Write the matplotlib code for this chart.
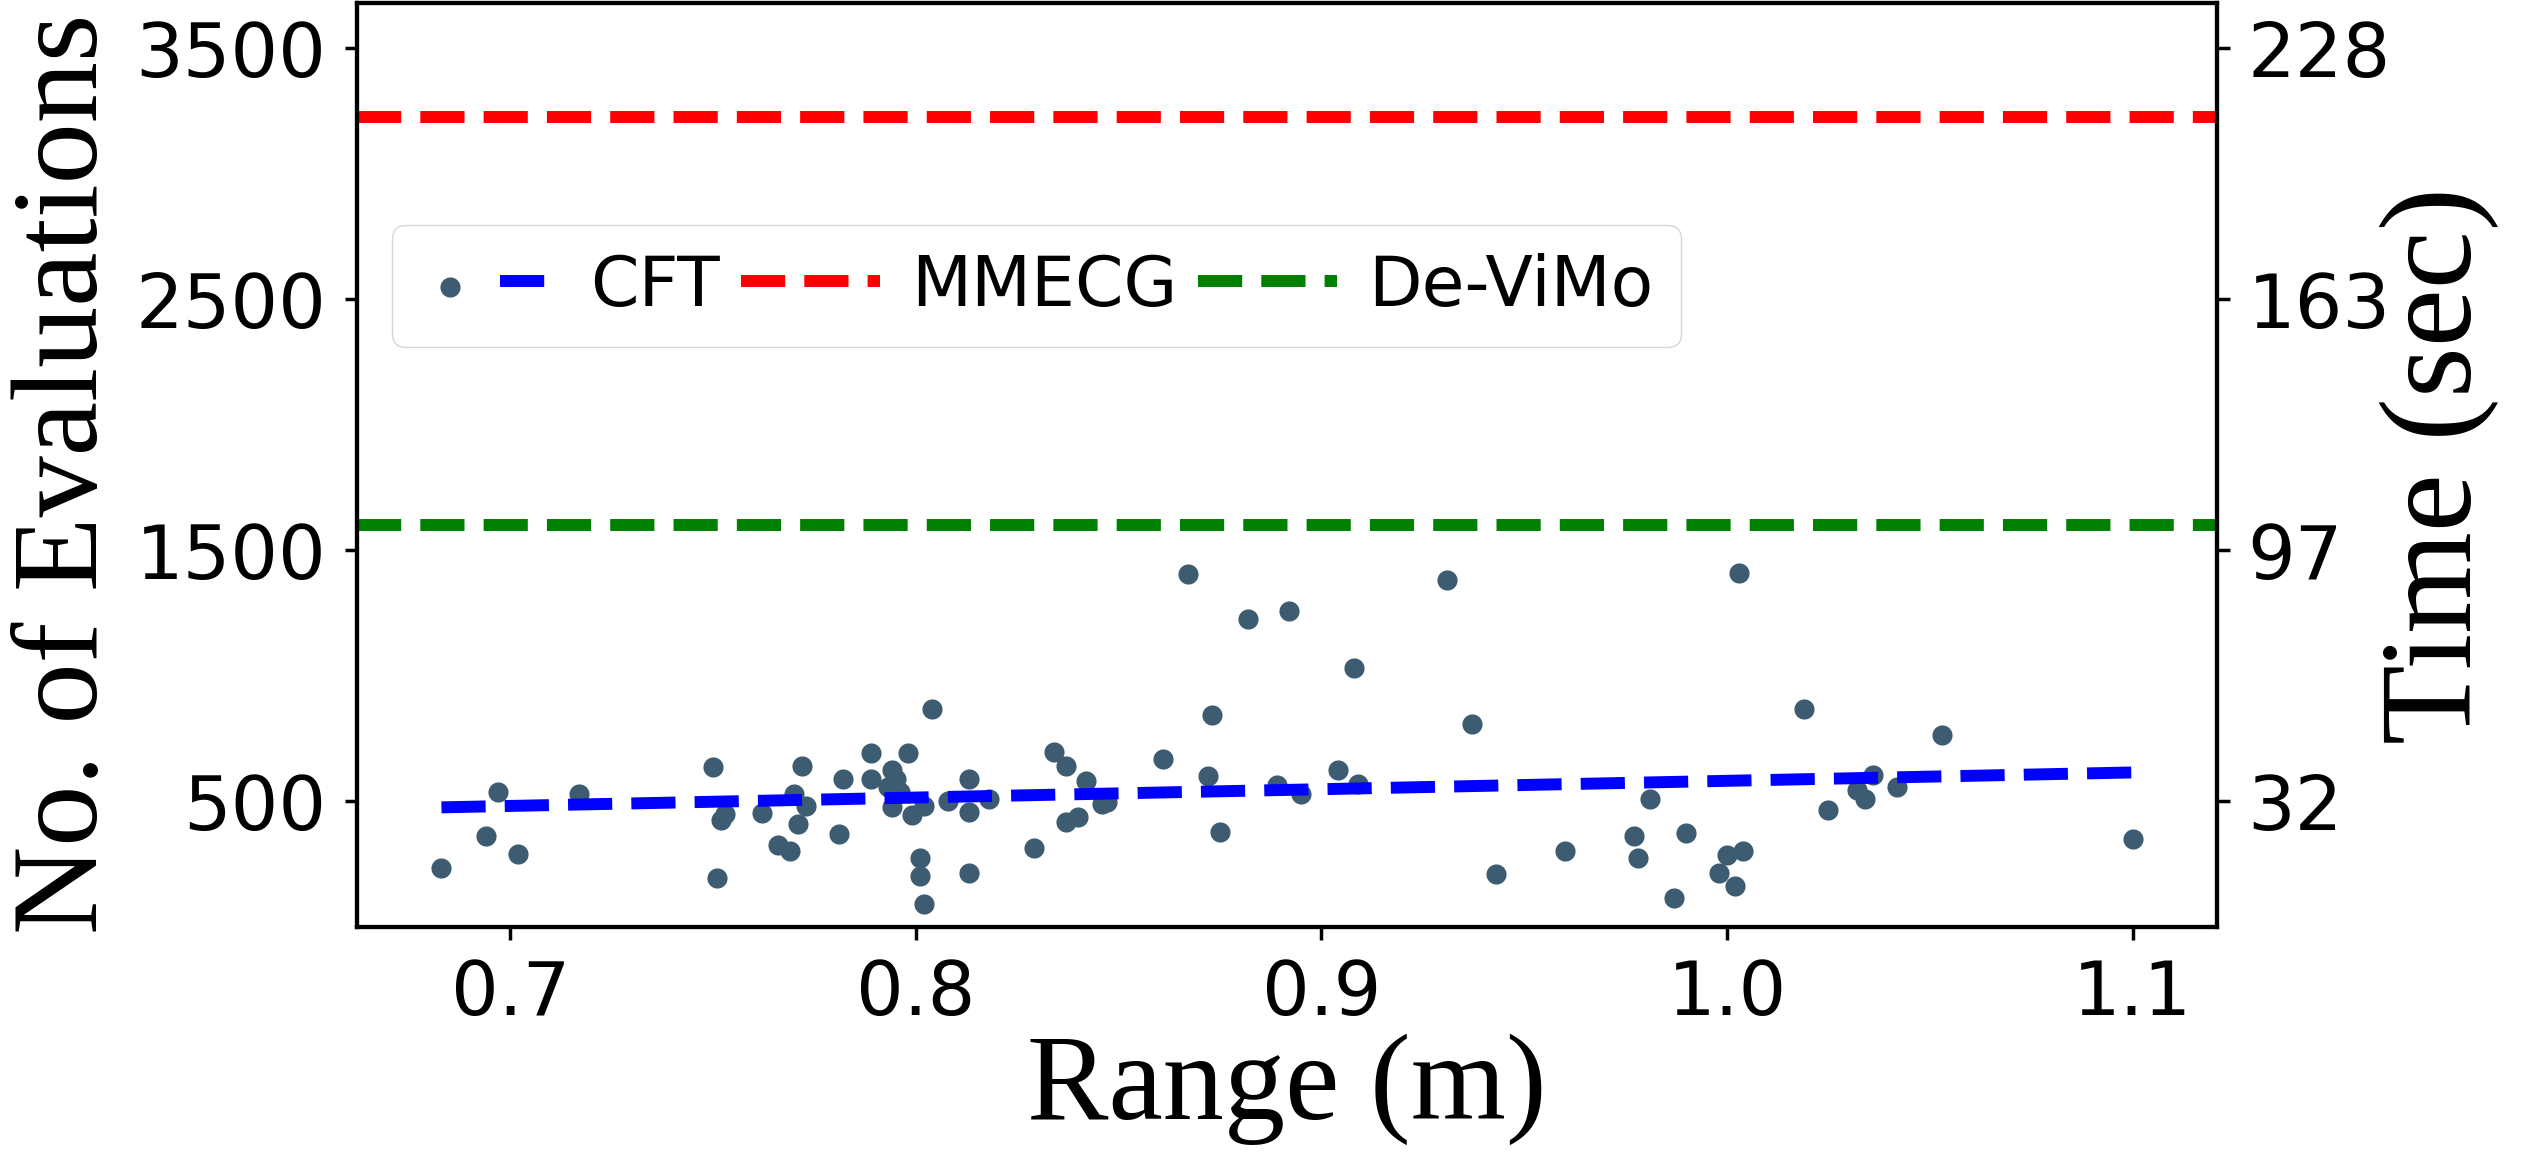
import numpy as np
import matplotlib
matplotlib.use("Agg")
import matplotlib.pyplot as plt
from matplotlib.legend_handler import HandlerTuple

# CFT measurements: range (m) vs number of evaluations
cft_range = [0.683, 0.697, 0.694, 0.702, 0.717, 0.750, 0.751, 0.753, 0.752, 0.762,
             0.766, 0.769, 0.772, 0.770, 0.773, 0.771, 0.781, 0.782, 0.789, 0.789,
             0.794, 0.795, 0.793, 0.796, 0.794, 0.798, 0.799, 0.802, 0.804, 0.801,
             0.801, 0.802, 0.808, 0.813, 0.813, 0.813, 0.818, 0.829, 0.834, 0.837,
             0.842, 0.837, 0.840, 0.846, 0.847,
             0.867, 0.882, 0.892, 0.931, 0.908, 0.873, 0.861, 0.872, 0.875, 0.889,
             0.895, 0.904, 0.909, 0.937, 0.943, 0.960, 0.977, 0.978, 0.981, 0.987,
             0.990, 0.998, 1.000, 1.004, 1.002, 1.003, 1.019, 1.025, 1.032, 1.034,
             1.036, 1.042, 1.053, 1.100]
cft_evals = [233, 537, 363, 292, 531, 637, 194, 451, 426, 455,
             325, 301, 641, 531, 480, 411, 371, 590, 693, 590,
             627, 590, 556, 537, 477, 693, 447, 480, 867, 276,
             201, 92, 501, 215, 590, 457, 511, 315, 696, 643,
             580, 420, 437, 488, 497,
             1404, 1228, 1258, 1383, 1033, 845, 667, 601, 380, 564,
             531, 625, 570, 809, 212, 301, 361, 276, 508, 114,
             374, 215, 285, 301, 165, 1411, 867, 467, 544, 508,
             604, 557, 765, 349]

mmecg_evals = 3225
devimo_evals = 1600

eval_ticks = [500, 1500, 2500, 3500]
time_labels = ['32', '97', '163', '228']

fig = plt.figure(figsize=(25.24, 11.6), dpi=100)
ax = fig.add_axes([0.1414, 0.2009, 0.7370, 0.7965])

x = np.array(cft_range)
y = np.array(cft_evals)
pts = ax.scatter(x, y, s=210, color='#3d5c71', linewidths=0, zorder=3)

# linear trend of CFT
coef = np.polyfit(x, y, 1)
xs = np.array([x.min(), x.max()])
trend, = ax.plot(xs, np.polyval(coef, xs), '--', color='blue', lw=8.6, zorder=4)

mm = ax.axhline(mmecg_evals, ls='--', color='red', lw=8.6)
dv = ax.axhline(devimo_evals, ls='--', color='green', lw=8.6)

ax.set_ylim(0, 3680)
ax.set_yticks(eval_ticks)
ax.tick_params(labelsize=54, length=9, width=2.5, pad=13)

ax2 = ax.twinx()
ax2.set_ylim(ax.get_ylim())
ax2.set_yticks(eval_ticks)
ax2.set_yticklabels(time_labels)
ax2.tick_params(labelsize=54, length=9, width=2.5, pad=13)

for a in (ax, ax2):
    for sp in a.spines.values():
        sp.set_linewidth(3)

ax.set_xlabel('Range (m)', family='Liberation Serif', size=88, labelpad=2)
ax.set_ylabel('No. of Evaluations', family='Liberation Serif', size=88,
              labelpad=14)
ax.yaxis.set_label_coords(-0.126, 0.49)
ax2.set_ylabel('Time (sec)', family='Liberation Serif', size=94, labelpad=-8)

ax.legend([(pts, trend), mm, dv], ['CFT', 'MMECG', 'De-ViMo'],
          handler_map={tuple: HandlerTuple(ndivide=None, pad=0.3)},
          ncol=3, fontsize=50, loc='upper left', bbox_to_anchor=(0.019, 0.76),
          borderaxespad=0, handletextpad=0.45, columnspacing=0.3,
          handlelength=2.0)

fig.savefig('out.png', dpi=100)
